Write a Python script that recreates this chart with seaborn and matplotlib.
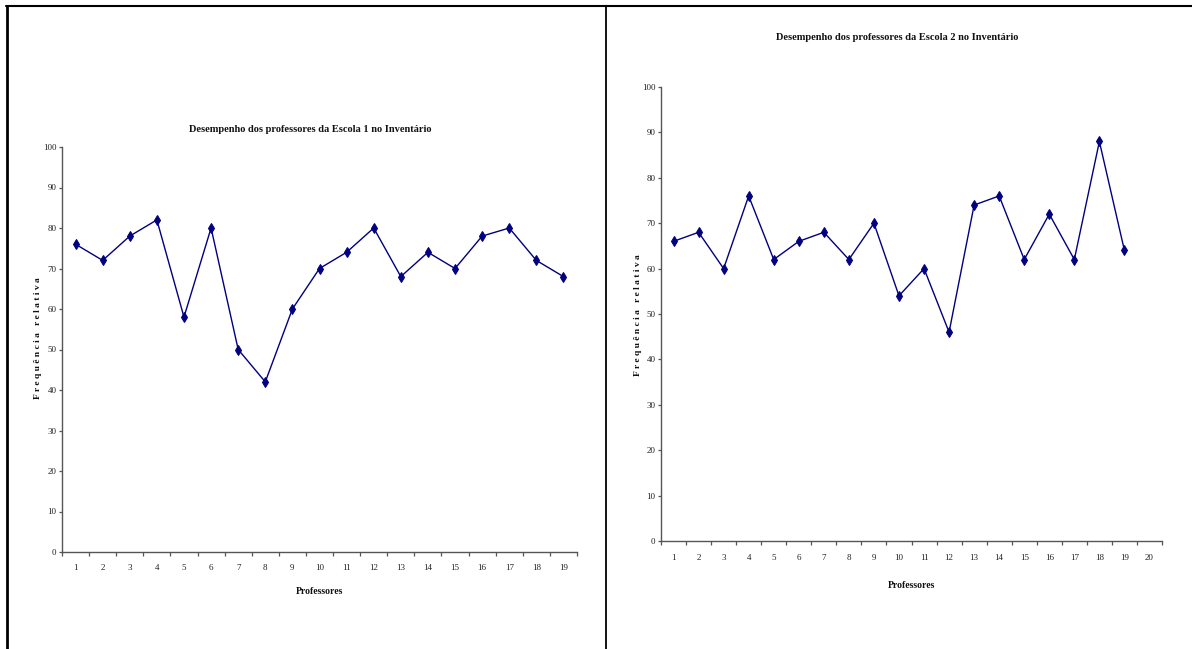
import matplotlib
matplotlib.use("Agg")
import matplotlib.pyplot as plt
from matplotlib.lines import Line2D
from matplotlib.ticker import FixedLocator, NullFormatter
import numpy as np
import pandas as pd
import seaborn as sns

# Scores per teacher, school 1 and school 2
professores_1 = list(range(1, 20))
frequencia_1 = [76, 72, 78, 82, 58, 80, 50, 42, 60, 70, 74, 80, 68, 74, 70, 78, 80, 72, 68]

professores_2 = list(range(1, 20))
frequencia_2 = [66, 68, 60, 76, 62, 66, 68, 62, 70, 54, 60, 46, 74, 76, 62, 72, 62, 88, 64]

titulo_1 = "Desempenho dos professores da Escola 1 no Inventário"
titulo_2 = "Desempenho dos professores da Escola 2 no Inventário"
rotulo_x = "Professores"
rotulo_y = "F r e q u ê n c i a   r e l a t i v a"

sns.set_theme(style="white")
plt.rcParams["font.family"] = ["Liberation Serif", "DejaVu Serif"]

W, H = 1192, 649
fig = plt.figure(figsize=(W / 100, H / 100), dpi=100)
fig.patch.set_facecolor("white")

LINE = "#000080"
AXC = "#555555"


def px_axes(x0, x1, ytop, ybot):
    return fig.add_axes([x0 / W, (H - ybot) / H, (x1 - x0) / W, (ybot - ytop) / H])


def draw(ax, xs, ys, n_cat):
    df = pd.DataFrame({"prof": xs, "freq": ys})
    sns.lineplot(data=df, x="prof", y="freq", ax=ax, color=LINE, lw=1.0,
                 marker="d", markersize=5, markeredgecolor=LINE,
                 markerfacecolor=LINE)
    ax.set_xlim(0.5, n_cat + 0.5)
    ax.set_ylim(0, 100)
    ax.set_yticks(np.arange(0, 101, 10))
    ax.xaxis.set_major_locator(FixedLocator(list(range(1, n_cat + 1))))
    ax.xaxis.set_minor_locator(FixedLocator(list(np.arange(0.5, n_cat + 1, 1.0))))
    ax.xaxis.set_minor_formatter(NullFormatter())
    ax.set_xticklabels([str(i) for i in range(1, n_cat + 1)])
    ax.tick_params(axis="x", which="major", length=0, pad=9, labelsize=6.5,
                   labelcolor="#222222")
    ax.tick_params(axis="x", which="minor", length=3, width=0.9,
                   color=AXC, direction="out", bottom=True)
    ax.tick_params(axis="y", length=2.5, width=0.9, color=AXC, direction="out",
                   left=True, labelsize=6.5, labelcolor="#222222", pad=1.5)
    for s in ["top", "right"]:
        ax.spines[s].set_visible(False)
    for s in ["left", "bottom"]:
        ax.spines[s].set_color(AXC)
        ax.spines[s].set_linewidth(1.0)
    ax.set_xlabel("")
    ax.set_ylabel("")
    ax.set_facecolor("none")


ax1 = px_axes(62, 577, 147, 552)
draw(ax1, professores_1, frequencia_1, 19)

ax2 = px_axes(661, 1162, 87, 541)
draw(ax2, professores_2, frequencia_2, 20)

# Titles and axis labels
fig.text(310 / W, 1 - 129 / H, titulo_1, ha="center", va="center",
         fontsize=7.5, fontweight="bold", color="#111111")
fig.text(897 / W, 1 - 38 / H, titulo_2, ha="center", va="center",
         fontsize=7.5, fontweight="bold", color="#111111")
fig.text(319 / W, 1 - 592 / H, rotulo_x, ha="center", va="center",
         fontsize=7, fontweight="bold", color="#111111")
fig.text(912 / W, 1 - 586 / H, rotulo_x, ha="center", va="center",
         fontsize=7, fontweight="bold", color="#111111")
fig.text(38 / W, 1 - 338 / H, rotulo_y, ha="center", va="center",
         rotation=90, fontsize=6.8, fontweight="bold", color="#111111")
fig.text(638 / W, 1 - 315 / H, rotulo_y, ha="center", va="center",
         rotation=90, fontsize=6.8, fontweight="bold", color="#111111")

# Surrounding frame lines
fig.add_artist(Line2D([6 / W, 1.0], [1 - 6 / H, 1 - 6 / H], color="black", lw=1.5,
                      transform=fig.transFigure))
fig.add_artist(Line2D([7 / W, 7 / W], [0, 1 - 6 / H], color="black", lw=2.0,
                      transform=fig.transFigure))
fig.add_artist(Line2D([606 / W, 606 / W], [0, 1 - 6 / H], color="black", lw=1.3,
                      transform=fig.transFigure))

fig.savefig("out.png", dpi=100, facecolor="white")
